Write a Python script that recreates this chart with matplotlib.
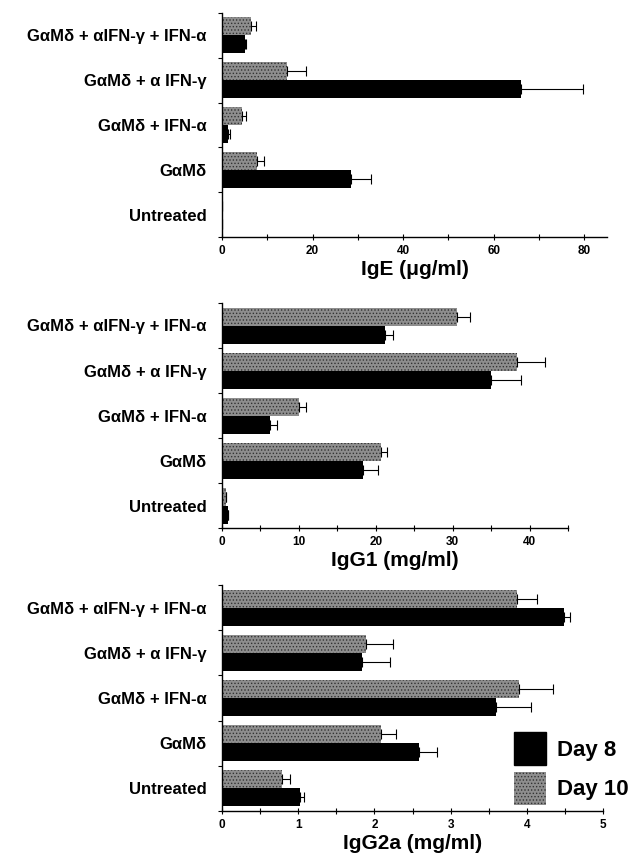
import numpy as np
import matplotlib.pyplot as plt
from matplotlib.patches import Patch

# categories, top to bottom as drawn
categories = [
    "GαMδ + αIFN-γ + IFN-α",
    "GαMδ + α IFN-γ",
    "GαMδ + IFN-α",
    "GαMδ",
    "Untreated",
]

# IgE (ug/ml)
ige_day8 = [5.0, 66.0, 1.3, 28.5, 0.0]
ige_day8_err = [0.3, 13.8, 0.5, 4.5, 0.0]
ige_day10 = [6.3, 14.3, 4.5, 7.7, 0.0]
ige_day10_err = [1.2, 4.2, 0.7, 1.5, 0.0]

# IgG1 (mg/ml)
igg1_day8 = [21.2, 35.0, 6.3, 18.3, 0.8]
igg1_day8_err = [1.0, 3.9, 0.8, 2.0, 0.0]
igg1_day10 = [30.6, 38.4, 10.0, 20.7, 0.5]
igg1_day10_err = [1.7, 3.6, 0.9, 0.8, 0.0]

# IgG2a (mg/ml)
igg2a_day8 = [4.49, 1.84, 3.59, 2.58, 1.02]
igg2a_day8_err = [0.08, 0.37, 0.47, 0.24, 0.06]
igg2a_day10 = [3.87, 1.89, 3.90, 2.09, 0.79]
igg2a_day10_err = [0.27, 0.36, 0.44, 0.20, 0.10]

panels = [
    ("IgE (μg/ml)", ige_day8, ige_day8_err, ige_day10, ige_day10_err, 85, 20, 10),
    ("IgG1 (mg/ml)", igg1_day8, igg1_day8_err, igg1_day10, igg1_day10_err, 45, 10, 5),
    ("IgG2a (mg/ml)", igg2a_day8, igg2a_day8_err, igg2a_day10, igg2a_day10_err, 5, 1, 0.5),
]

plt.rcParams['font.family'] = ['Liberation Sans', 'DejaVu Sans']
plt.rcParams['hatch.linewidth'] = 0.6

W, H = 630, 859
fig = plt.figure(figsize=(W / 100, H / 100), dpi=100)

# axes boxes in pixels: left, right, top, bottom
boxes = [(222, 607, 13, 237), (222, 568, 303, 528), (222, 603, 585, 811)]

day10_color = '#8e8e8e'
n = len(categories)
ypos = [n - 1 - i for i in range(n)]
h = 0.4

for (xlabel, d8, e8, d10, e10, xmax, major, minor), (l, r, t, b) in zip(panels, boxes):
    ax = fig.add_axes([l / W, 1 - b / H, (r - l) / W, (b - t) / H])
    y10 = [y + 0.2 for y in ypos]
    y8 = [y - 0.2 for y in ypos]
    ax.barh(y10, d10, height=h, color=day10_color, edgecolor='#333333',
            linewidth=0.0, hatch='.....', zorder=2)
    ax.barh(y8, d8, height=h, color='black', linewidth=0, zorder=2)
    ax.errorbar(d10, y10, xerr=[[0] * n, e10], fmt='none', ecolor='black',
                elinewidth=0.8, capsize=3.5, capthick=0.8, zorder=3)
    ax.errorbar(d8, y8, xerr=[[0] * n, e8], fmt='none', ecolor='black',
                elinewidth=0.8, capsize=3.5, capthick=0.8, zorder=3)

    ax.set_xlim(0, xmax)
    ax.set_ylim(-0.5, n - 0.5)
    for s in ('top', 'right'):
        ax.spines[s].set_visible(False)
    ax.spines['left'].set_linewidth(1.0)
    ax.spines['bottom'].set_linewidth(1.0)

    # x ticks
    ax.set_xticks(np.arange(0, xmax + 0.001, major))
    ax.set_xticks(np.arange(0, xmax + 0.001, minor), minor=True)
    ax.xaxis.set_major_formatter(plt.FuncFormatter(lambda v, p: f"{v:g}"))
    ax.tick_params(axis='x', which='both', direction='inout', length=4,
                   width=0.8, labelsize=8.5, pad=4)
    for lab in ax.get_xticklabels():
        lab.set_fontweight('bold')
    ax.set_xlabel(xlabel, fontsize=15, fontweight='bold', labelpad=2)

    # y: tick marks at category boundaries, labels at centres
    ax.set_yticks([y - 0.5 for y in range(n + 1)])
    ax.set_yticklabels([])
    ax.tick_params(axis='y', which='major', direction='out', length=3, width=0.8)
    ax.set_yticks(ypos, minor=True)
    ax.set_yticklabels(categories, minor=True)
    ax.tick_params(axis='y', which='minor', length=0, pad=11, labelsize=12)
    for lab in ax.get_yticklabels(minor=True):
        lab.set_fontweight('bold')

# legend in the last panel
handles = [Patch(facecolor='black', edgecolor='black', label='Day 8'),
           Patch(facecolor=day10_color, edgecolor='#333333', hatch='.....',
                 linewidth=0, label='Day 10')]
leg = ax.legend(handles=handles, loc='lower right', bbox_to_anchor=(1.12, -0.06),
                frameon=False, prop={'size': 16, 'weight': 'bold'},
                handlelength=1.45, handleheight=1.9, handletextpad=0.5,
                labelspacing=0.3)

fig.savefig('out.png', dpi=100)
